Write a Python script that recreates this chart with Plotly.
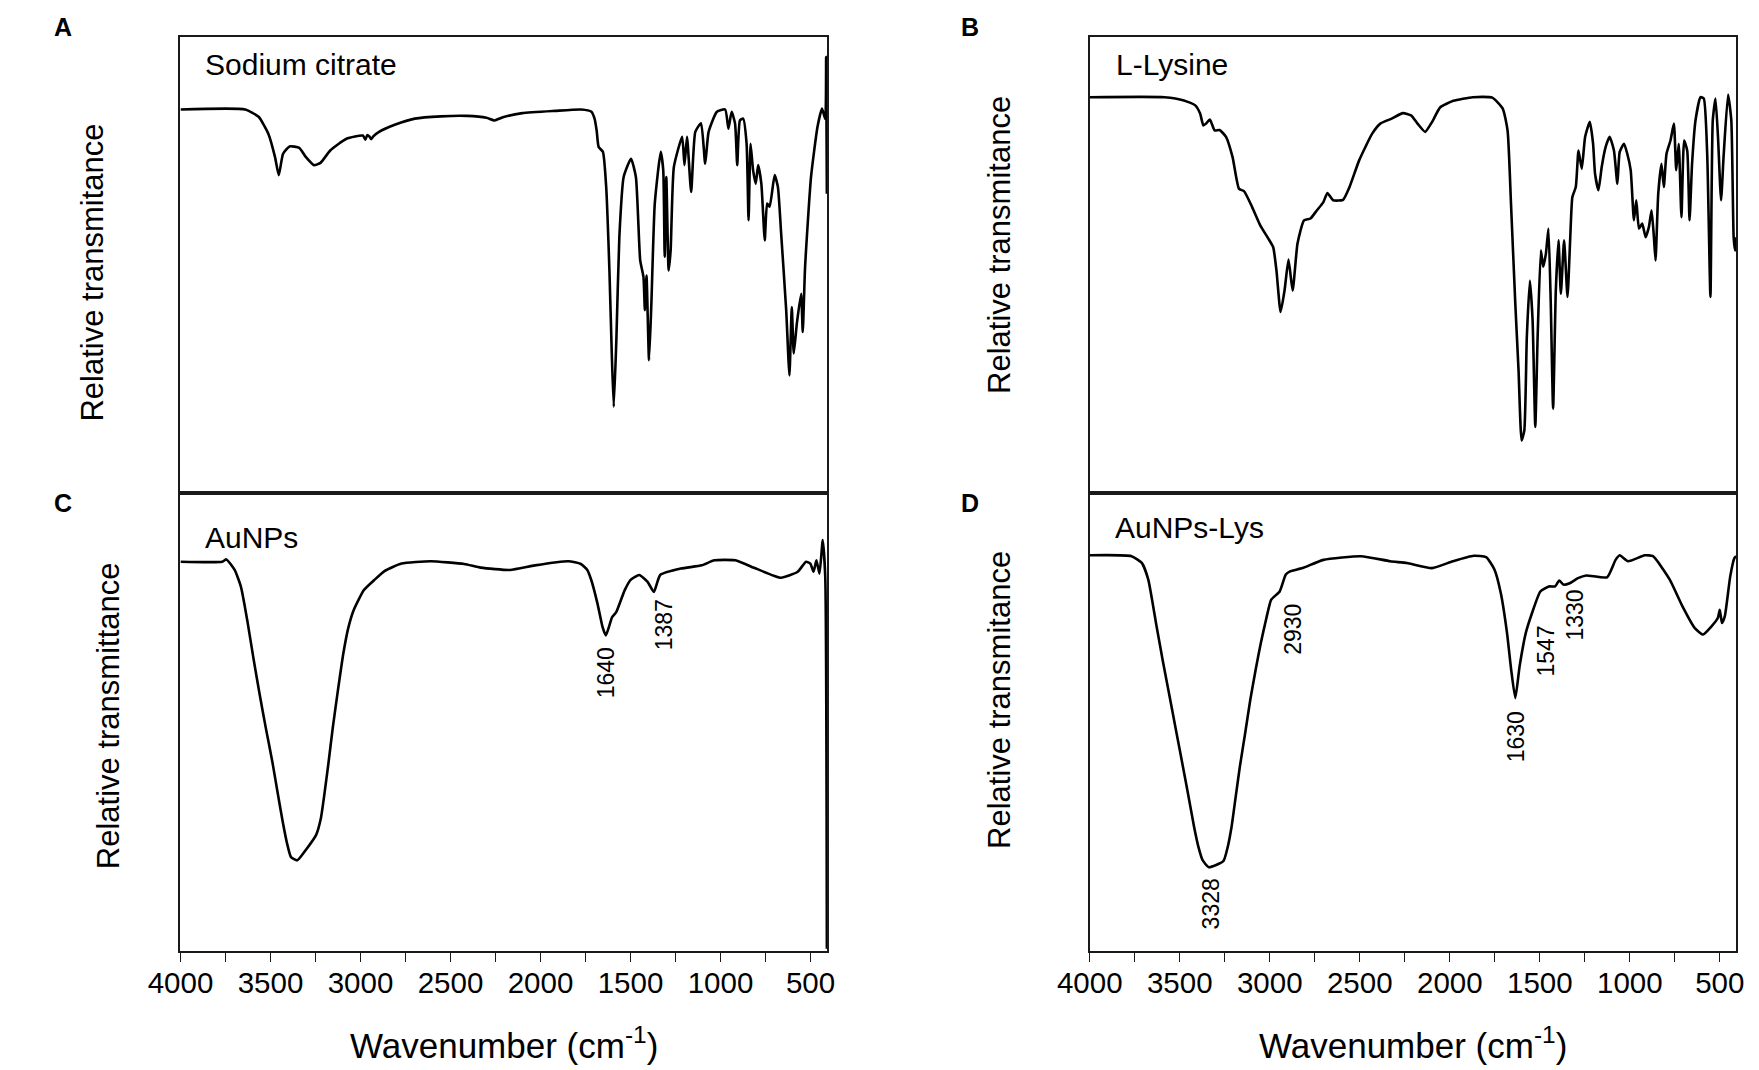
import plotly.graph_objects as go

# ---- dati (numero d'onda in cm-1, trasmittanza relativa 0-100) ----
citrate_wn = [4000, 3640, 3566, 3512, 3475, 3454, 3430, 3394, 3340, 3304, 3258, 3222, 3168, 3078,
              2987, 2973, 2962, 2951, 2940, 2929, 2897, 2806, 2698, 2553, 2408, 2300, 2255, 2209,
              2101, 1920, 1775, 1717, 1699, 1688, 1677, 1653, 1635, 1617, 1604, 1593, 1578, 1562,
              1538, 1497, 1470, 1446, 1428, 1420, 1411, 1397, 1384, 1365, 1332, 1318, 1310, 1301,
              1288, 1277, 1259, 1213, 1200, 1186, 1163, 1140, 1108, 1085, 1066, 1020, 974, 956,
              938, 919, 907, 892, 874, 855, 844, 833, 819, 804, 791, 773, 754, 741, 727, 699, 681,
              663, 635, 617, 604, 593, 576, 552, 543, 530, 497, 461, 436, 418, 413, 409]
citrate_t = [84.1, 84.1, 82.5, 78.8, 73.7, 69.7, 74.4, 76.0, 75.7, 73.7, 71.9, 72.4, 75.1, 77.7,
             78.4, 77.5, 78.5, 78.2, 77.6, 78.2, 79.2, 80.8, 82.1, 82.6, 82.7, 82.3, 81.7, 82.4,
             83.3, 83.8, 84.1, 83.6, 82.0, 79.5, 75.9, 74.8, 67.1, 48.8, 30.6, 18.9, 34.2, 56.1,
             69.3, 73.3, 69.3, 51.0, 47.4, 40.1, 47.7, 29.1, 41.5, 63.5, 74.8, 70.8, 51.8, 69.3,
             48.8, 53.2, 71.5, 78.1, 71.9, 78.1, 66.0, 79.2, 81.1, 72.2, 79.2, 83.6, 84.1, 79.9,
             83.6, 81.0, 71.9, 81.7, 82.1, 76.6, 59.8, 76.6, 70.8, 67.8, 71.9, 67.8, 55.4, 63.5,
             62.8, 69.7, 67.1, 56.9, 40.1, 25.8, 40.8, 30.6, 37.1, 43.7, 35.3, 49.6, 69.3, 80.3,
             84.3, 82.0, 95.6, 65.6]

lysine_wn = [4000, 3585, 3477, 3414, 3387, 3369, 3354, 3333, 3306, 3279, 3243, 3207, 3171, 3143,
             3098, 3053, 3008, 2981, 2963, 2940, 2918, 2896, 2873, 2846, 2810, 2774, 2738, 2702,
             2680, 2648, 2593, 2557, 2503, 2431, 2386, 2323, 2260, 2215, 2179, 2137, 2098, 2053,
             1980, 1872, 1764, 1706, 1679, 1660, 1636, 1618, 1601, 1586, 1572, 1555, 1540, 1525,
             1512, 1494, 1481, 1466, 1452, 1439, 1426, 1411, 1396, 1383, 1365, 1346, 1331, 1319,
             1300, 1285, 1267, 1248, 1222, 1204, 1193, 1174, 1156, 1134, 1112, 1088, 1069, 1056,
             1032, 1014, 995, 977, 964, 949, 931, 912, 894, 879, 866, 857, 842, 824, 811, 796,
             774, 755, 742, 728, 713, 698, 681, 668, 654, 635, 607, 589, 570, 552, 539, 524, 510,
             493, 478, 454, 436, 423, 415, 409]
lysine_t = [86.8, 86.8, 86.1, 85.0, 83.2, 80.6, 81.0, 81.9, 79.5, 79.6, 78.1, 73.7, 66.7, 66.2,
            62.7, 58.7, 55.8, 53.9, 48.8, 39.7, 44.4, 51.2, 44.4, 54.7, 59.8, 60.2, 62.0, 63.8,
            65.8, 64.2, 64.3, 67.1, 73.0, 78.8, 81.0, 82.1, 83.3, 82.8, 81.0, 79.2, 81.4, 84.6,
            86.0, 86.8, 86.7, 84.3, 79.5, 63.5, 41.5, 26.9, 11.5, 13.7, 34.2, 46.6, 37.9, 14.5,
            34.2, 53.2, 49.6, 52.5, 58.0, 41.5, 18.5, 44.4, 55.4, 43.7, 55.4, 43.0, 55.8, 64.9,
            67.1, 75.1, 71.1, 78.1, 81.4, 76.6, 70.0, 66.4, 71.5, 75.9, 78.1, 75.1, 67.8, 74.8,
            76.6, 74.4, 70.8, 59.8, 64.2, 58.0, 59.1, 56.1, 58.3, 62.0, 56.1, 51.0, 65.6, 72.2,
            67.1, 74.4, 77.3, 81.0, 70.8, 76.6, 60.5, 77.3, 75.1, 59.8, 72.2, 81.7, 86.8, 86.5,
            74.4, 43.0, 81.7, 86.5, 78.1, 64.2, 74.4, 87.4, 81.7, 56.1, 53.2, 56.1]

aunps_wn = [4000, 3768, 3745, 3699, 3664, 3629, 3595, 3560, 3525, 3490, 3460, 3432, 3408, 3386,
            3351, 3305, 3247, 3220, 3201, 3178, 3154, 3125, 3096, 3068, 3038, 2981, 2923, 2865,
            2772, 2610, 2424, 2332, 2170, 2031, 1845, 1776, 1740, 1718, 1683, 1655, 1637, 1602,
            1579, 1532, 1498, 1451, 1405, 1370, 1335, 1220, 1104, 1034, 918, 803, 664, 571, 525,
            501, 483, 467, 450, 432, 418, 409]
aunps_t = [85.0, 85.0, 85.5, 83.2, 79.5, 72.2, 64.0, 56.0, 48.5, 41.4, 34.5, 28.2, 23.5, 20.5,
           19.8, 22.0, 25.3, 29.0, 34.1, 41.0, 48.7, 57.0, 64.8, 70.5, 74.4, 78.8, 81.0, 83.0,
           84.6, 85.1, 84.5, 83.7, 83.2, 84.2, 85.1, 84.5, 83.2, 81.0, 75.8, 70.7, 68.9, 72.9,
           74.0, 78.8, 81.1, 82.1, 80.6, 78.4, 82.1, 83.5, 84.2, 85.3, 85.3, 83.5, 81.5, 82.8,
           85.0, 84.6, 82.8, 85.3, 82.4, 89.7, 81.7, 0.5]

auplys_wn = [4000, 3768, 3710, 3675, 3629, 3595, 3560, 3525, 3490, 3455, 3421, 3395, 3374, 3339,
             3258, 3235, 3212, 3190, 3166, 3137, 3108, 3078, 3050, 3020, 2992, 2945, 2911, 2887,
             2818, 2702, 2493, 2331, 2238, 2099, 1983, 1867, 1798, 1752, 1717, 1682, 1659, 1636,
             1612, 1578, 1543, 1497, 1450, 1415, 1392, 1369, 1334, 1288, 1242, 1126, 1079, 1056,
             1010, 917, 871, 778, 708, 639, 593, 546, 511, 500, 488, 472, 442, 419, 409]
auplys_t = [86.4, 86.2, 84.7, 81.1, 70.9, 63.5, 56.3, 49.0, 41.8, 34.5, 27.2, 22.5, 19.9, 18.3,
            19.6, 22.5, 27.2, 33.5, 40.3, 47.5, 54.9, 61.5, 67.2, 72.5, 76.7, 78.5, 82.2, 82.9,
            83.6, 85.4, 86.2, 85.1, 84.7, 83.6, 85.1, 86.3, 86.0, 83.3, 78.2, 69.4, 61.4, 55.2,
            62.2, 69.4, 73.8, 78.5, 79.6, 79.6, 80.9, 80.0, 80.3, 81.4, 82.0, 81.6, 85.4, 86.4,
            85.1, 86.4, 86.2, 81.1, 75.3, 70.5, 69.1, 70.9, 72.7, 74.5, 71.6, 73.1, 81.8, 85.8,
            86.2]

panel_letters = ["A", "B", "C", "D"]
sample_names = ["Sodium citrate", "L-Lysine", "AuNPs", "AuNPs-Lys"]
ytitles = ["Relative transmitance", "Relative transmitance",
           "Relative transmittance", "Relative transmitance"]
tick_vals = [4000, 3500, 3000, 2500, 2000, 1500, 1000, 500]

# etichette dei picchi: (pannello, testo)
peak_labels = [(3, "1640"), (3, "1387"), (4, "3328"), (4, "2930"),
               (4, "1630"), (4, "1547"), (4, "1330")]

W, H = 1759, 1070
FONT = "Liberation Sans, Arial, sans-serif"
X_RANGE = [4000, 408]

# geometria dei pannelli in pixel (sinistra, destra, alto, basso)
boxes = {1: (151, 813, 37, 493), 2: (1082, 1744, 37, 493),
         3: (151, 813, 493, 951), 4: (1082, 1744, 493, 951)}
# posizioni delle etichette dei picchi (x in cm-1, y in unita' del pannello)
peak_pos = [(1634, 60.7), (1317, 71.2), (3329, 10.3), (2872, 70.3),
            (1631, 46.7), (1468, 65.5), (1306, 73.4)]


def px(x):
    return x / W


def py(y):
    return 1 - y / H


fig = go.Figure()
series = [(citrate_wn, citrate_t), (lysine_wn, lysine_t),
          (aunps_wn, aunps_t), (auplys_wn, auplys_t)]
for i, (wn, t) in enumerate(series, start=1):
    sfx = "" if i == 1 else str(i)
    fig.add_trace(go.Scatter(x=wn, y=t, mode="lines", xaxis="x" + sfx, yaxis="y" + sfx,
                             line=dict(color="black", width=2.6, shape="spline", smoothing=0.5),
                             showlegend=False, hoverinfo="skip"))

layout = dict(width=W, height=H, margin=dict(l=0, r=0, t=0, b=0),
              paper_bgcolor="white", plot_bgcolor="white",
              font=dict(family=FONT, color="black"))
annotations = []
for i in range(1, 5):
    sfx = "" if i == 1 else str(i)
    l, r, t, b = boxes[i]
    bottom = i >= 3
    layout["xaxis" + sfx] = dict(
        domain=[px(l), px(r)], anchor="y" + sfx, range=X_RANGE,
        showline=True, mirror=True, linecolor="#1a1a1a", linewidth=1.6,
        showgrid=False, zeroline=False,
        tickvals=tick_vals if bottom else [], ticks="outside" if bottom else "",
        ticklen=9, tickwidth=1.4, tickcolor="#1a1a1a",
        minor=dict(dtick=250, ticks="outside" if bottom else "", ticklen=9,
                   tickwidth=1.4, tickcolor="#1a1a1a", showgrid=False),
        showticklabels=bottom, ticklabelstandoff=-4,
        tickfont=dict(family=FONT, size=29.5, color="black"))
    layout["yaxis" + sfx] = dict(
        domain=[py(b), py(t)], anchor="x" + sfx, range=[0, 100],
        showline=True, mirror=True, linecolor="#1a1a1a", linewidth=1.6,
        showgrid=False, zeroline=False, ticks="", showticklabels=False)

# lettere dei pannelli
for txt, (x, y) in zip(panel_letters, [(31, 27), (959, 27), (31, 503), (959, 503)]):
    annotations.append(dict(text="<b>" + txt + "</b>", x=px(x), y=py(y), xref="paper",
                            yref="paper", showarrow=False, xanchor="center", yanchor="middle",
                            font=dict(family=FONT, size=25, color="black")))
# nomi dei campioni
for txt, (x, y) in zip(sample_names, [(174, 65), (1107, 65), (174, 537), (1106, 527)]):
    annotations.append(dict(text=txt, x=px(x), y=py(y), xref="paper", yref="paper",
                            showarrow=False, xanchor="left", yanchor="middle",
                            font=dict(family=FONT, size=30, color="black")))
# titoli asse y
for txt, (x, y) in zip(ytitles, [(61, 273), (990, 245), (77, 716), (989, 700)]):
    annotations.append(dict(text=txt, x=px(x), y=py(y), xref="paper", yref="paper",
                            showarrow=False, textangle=-90, xanchor="center",
                            yanchor="middle", font=dict(family=FONT, size=31, color="black")))
# titoli asse x
for x in [482, 1413]:
    annotations.append(dict(text="Wavenumber (cm<sup>-1</sup>)", x=px(x), y=py(1043),
                            xref="paper", yref="paper", showarrow=False,
                            xanchor="center", yanchor="middle",
                            font=dict(family=FONT, size=35, color="black")))
# etichette dei picchi
for (panel, txt), (x, y) in zip(peak_labels, peak_pos):
    annotations.append(dict(text=txt, x=x, y=y, xref="x" + str(panel), yref="y" + str(panel),
                            showarrow=False, textangle=-90, xanchor="center",
                            yanchor="middle", font=dict(family=FONT, size=23, color="black")))

layout["annotations"] = annotations
fig.update_layout(**layout)
fig.write_html("out.html", config={"displayModeBar": False},
               post_script="document.body.style.margin='0';document.body.style.overflow='hidden';")
